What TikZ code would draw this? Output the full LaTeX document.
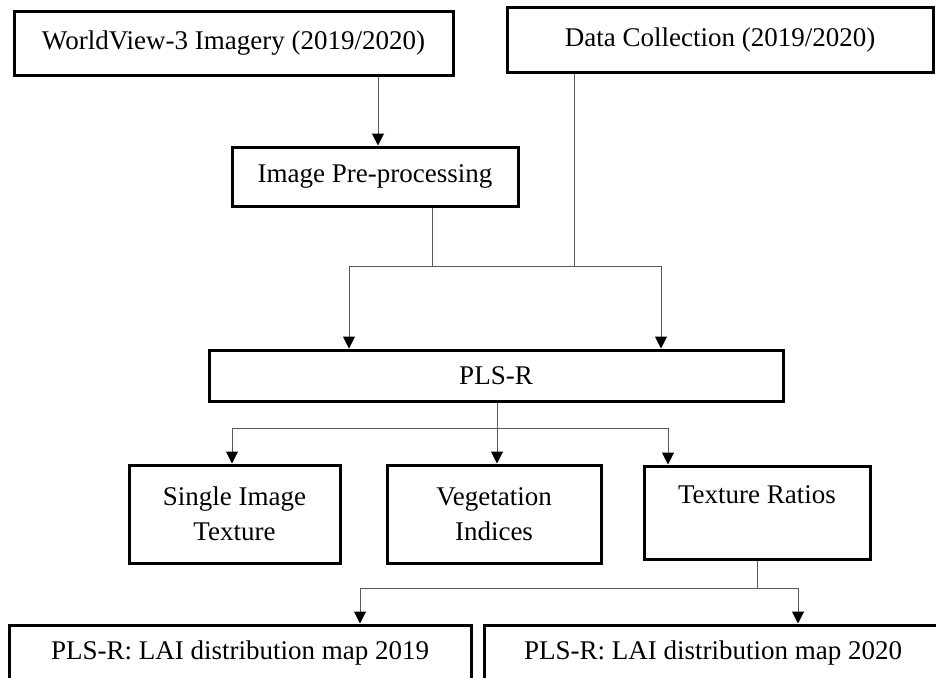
\documentclass[tikz,border=0pt]{standalone}
\usepackage{fontspec}
\setmainfont{Liberation Serif}
\usetikzlibrary{arrows.meta}
\tikzset{
  box/.style={draw=black, line width=3pt, inner sep=0pt, align=center,
    font=\fontsize{27}{35}\selectfont},
  conn/.style={draw=black!65, line width=1pt},
  arr/.style={conn, -{Triangle[length=12pt,width=12pt,color=black]}}
}
\begin{document}
\begin{tikzpicture}[x=1pt,y=-1pt]
\useasboundingbox (0,0) rectangle (936,677);
% boxes
\node[box, minimum width=439pt, minimum height=63pt] (wv) at (233.5,43.5) {WorldView-3 Imagery (2019/2020)};
\node[box, minimum width=426pt, minimum height=64pt] (dc) at (720,40) {Data Collection (2019/2020)};
\node[box, minimum width=286pt, minimum height=59pt] (pp) at (375,176.5) {Image Pre-processing};
\node[box, minimum width=574pt, minimum height=51pt] (pls) at (496,375.5) {PLS-R};
\node[box, minimum width=211pt, minimum height=98pt] (single) at (234.5,514) {Single Image\\Texture};
\node[box, minimum width=214pt, minimum height=98pt] (veg) at (494,514) {Vegetation\\Indices};
\node[box, minimum width=226pt, minimum height=93pt] (tex) at (757,512.5) {Texture Ratios\\\phantom{T}};
\node[box, minimum width=462pt, minimum height=56pt] (m19) at (240,653) {PLS-R: LAI distribution map 2019};
\node[box, minimum width=458pt, minimum height=56pt] (m20) at (713,653) {PLS-R: LAI distribution map 2020};
% junction coordinates
\coordinate (a0) at (378,100);
\coordinate (a1) at (432,266);
\coordinate (a2) at (574,266);
\coordinate (hl) at (349,266);
\coordinate (hr) at (661,266);
\coordinate (bm) at (497,428);
\coordinate (bl) at (232,428);
\coordinate (br) at (668,428);
\coordinate (cm) at (757,588);
\coordinate (cl) at (360,588);
\coordinate (cr) at (798,588);
% connectors
\draw[arr] (a0 |- wv.south) -- (a0 |- pp.north);
\draw[conn] (a1 |- pp.south) -- (a1);
\draw[conn] (a2 |- dc.south) -- (a2);
\draw[conn] (hl) -- (hr);
\draw[arr] (hl) -- (hl |- pls.north);
\draw[arr] (hr) -- (hr |- pls.north);
\draw[arr] (bm |- pls.south) -- (bm |- veg.north);
\draw[conn] (bl) -- (br);
\draw[arr] (bl) -- (bl |- single.north);
\draw[arr] (br) -- (br |- tex.north);
\draw[conn] (cm |- tex.south) -- (cm);
\draw[conn] (cl) -- (cr);
\draw[arr] (cl) -- (cl |- m19.north);
\draw[arr] (cr) -- (cr |- m20.north);
\end{tikzpicture}
\end{document}
